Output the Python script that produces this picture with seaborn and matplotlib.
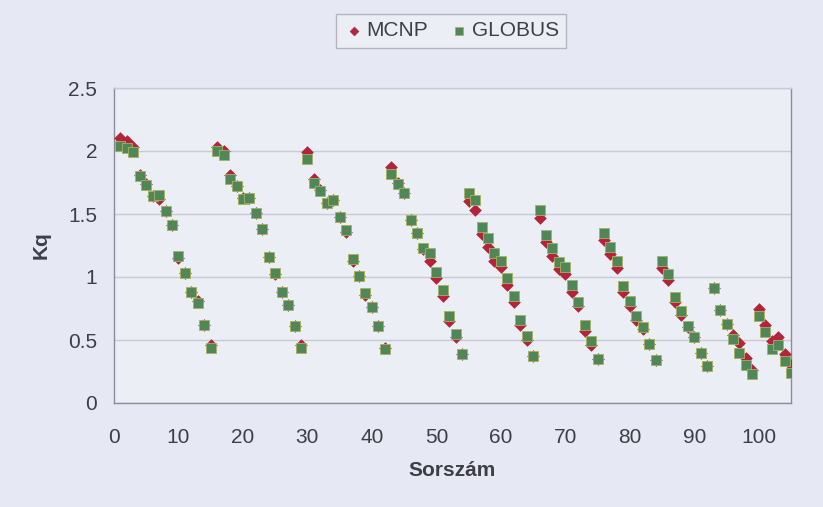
import numpy as np
import pandas as pd
import seaborn as sns
import matplotlib.pyplot as plt

# Sorszám (serial number) of each measured position
sorszam = list(range(1, 106))

# Kq values computed by MCNP
mcnp = [
    2.10, 2.08, 2.03, 1.81, 1.74, 1.64, 1.62, 1.52, 1.41, 1.15, 1.03, 0.88, 0.81, 0.62, 0.46,
    2.03, 2.00, 1.81, 1.72, 1.63, 1.63, 1.51, 1.38, 1.16, 1.02, 0.88, 0.78, 0.61, 0.46,
    1.99, 1.78, 1.69, 1.59, 1.61, 1.48, 1.36, 1.13, 1.01, 0.86, 0.76, 0.61, 0.44,
    1.87, 1.75, 1.67, 1.45, 1.35, 1.22, 1.13, 0.99, 0.85, 0.65, 0.52, 0.39,
    1.60, 1.53, 1.34, 1.24, 1.13, 1.08, 0.94, 0.80, 0.62, 0.50, 0.37,
    1.47, 1.28, 1.17, 1.06, 1.02, 0.88, 0.77, 0.57, 0.46, 0.35,
    1.29, 1.18, 1.07, 0.88, 0.77, 0.66, 0.59, 0.47, 0.34,
    1.07, 0.98, 0.80, 0.70, 0.60, 0.52, 0.40, 0.29,
    0.91, 0.74, 0.63, 0.54, 0.48, 0.36, 0.26,
    0.745, 0.62, 0.49, 0.52, 0.39, 0.30,
]

# Kq values computed by GLOBUS
globus = [
    2.04, 2.02, 1.99, 1.80, 1.73, 1.64, 1.65, 1.52, 1.41, 1.17, 1.03, 0.88, 0.79, 0.62, 0.44,
    2.00, 1.97, 1.78, 1.72, 1.62, 1.63, 1.51, 1.38, 1.16, 1.03, 0.88, 0.78, 0.61, 0.44,
    1.94, 1.75, 1.68, 1.59, 1.61, 1.48, 1.37, 1.14, 1.01, 0.87, 0.76, 0.61, 0.43,
    1.82, 1.74, 1.67, 1.45, 1.35, 1.23, 1.19, 1.04, 0.90, 0.69, 0.55, 0.39,
    1.67, 1.61, 1.40, 1.31, 1.19, 1.13, 0.99, 0.85, 0.66, 0.53, 0.37,
    1.53, 1.33, 1.23, 1.12, 1.08, 0.94, 0.80, 0.62, 0.49, 0.35,
    1.35, 1.24, 1.13, 0.93, 0.81, 0.69, 0.60, 0.47, 0.34,
    1.13, 1.02, 0.84, 0.73, 0.61, 0.52, 0.40, 0.29,
    0.91, 0.74, 0.63, 0.51, 0.40, 0.30, 0.23,
    0.69, 0.56, 0.43, 0.46, 0.33, 0.24,
]

x_ticks = list(range(0, 101, 10))
y_ticks = [0, 0.5, 1, 1.5, 2, 2.5]
y_tick_labels = ["0", "0.5", "1", "1.5", "2", "2.5"]

df = pd.DataFrame({"Sorszám": sorszam, "MCNP": mcnp, "GLOBUS": globus})

sns.set_style("white")
plt.rcParams["font.family"] = ["Liberation Sans", "DejaVu Sans"]

BG = "#E6E9F3"
PLOT_BG = "#ECEEF6"
TEXT = "#3E3E48"
AXIS = "#8C8C98"
GRID = "#C8CAD4"

fig = plt.figure(figsize=(8.23, 5.07), dpi=100, facecolor=BG)
ax = fig.add_axes([114 / 823, 1 - 403 / 507, (791 - 114) / 823, (403 - 88) / 507])
ax.set_facecolor(PLOT_BG)

sns.scatterplot(data=df, x="Sorszám", y="MCNP", marker="D", s=36,
                color="#B4223C", edgecolor="#B4223C", linewidth=0.4,
                label="MCNP", ax=ax, zorder=3)
sns.scatterplot(data=df, x="Sorszám", y="GLOBUS", marker="s", s=50,
                color="#4F8856", edgecolor="#A8B060", linewidth=0.6,
                label="GLOBUS", ax=ax, zorder=4)

ax.set_xlim(0, 105)
ax.set_ylim(0, 2.5)
ax.set_xticks(x_ticks)
ax.set_yticks(y_ticks)
ax.set_yticklabels(y_tick_labels)

ax.yaxis.grid(True, color=GRID, linewidth=1.0)
ax.xaxis.grid(False)
ax.set_axisbelow(True)

for side in ["left", "bottom", "right", "top"]:
    ax.spines[side].set_visible(True)
    ax.spines[side].set_color(AXIS)
    ax.spines[side].set_linewidth(1.0)
ax.spines["top"].set_color(GRID)

ax.tick_params(axis="both", which="major", direction="out", length=4,
               width=1, color=AXIS, labelsize=15, labelcolor=TEXT)
ax.tick_params(axis="x", pad=14)
ax.tick_params(axis="y", pad=8)

ax.set_xlabel("Sorszám", fontsize=15, fontweight="bold", color=TEXT, labelpad=10)
ax.set_ylabel("Kq", fontsize=15, fontweight="bold", color=TEXT, labelpad=13)

leg = ax.legend(loc="center", bbox_to_anchor=(451 / 823, 1 - 31 / 507),
                bbox_transform=fig.transFigure, ncol=2, frameon=True,
                fancybox=False, edgecolor="#A8A8B2", facecolor="#EEF0F6",
                fontsize=15, handletextpad=0.1, columnspacing=1.0,
                borderpad=0.35, markerscale=0.75, handlelength=1.0)
leg.get_frame().set_linewidth(1.0)
for t in leg.get_texts():
    t.set_color(TEXT)

fig.savefig("out.png", dpi=100, facecolor=BG)
